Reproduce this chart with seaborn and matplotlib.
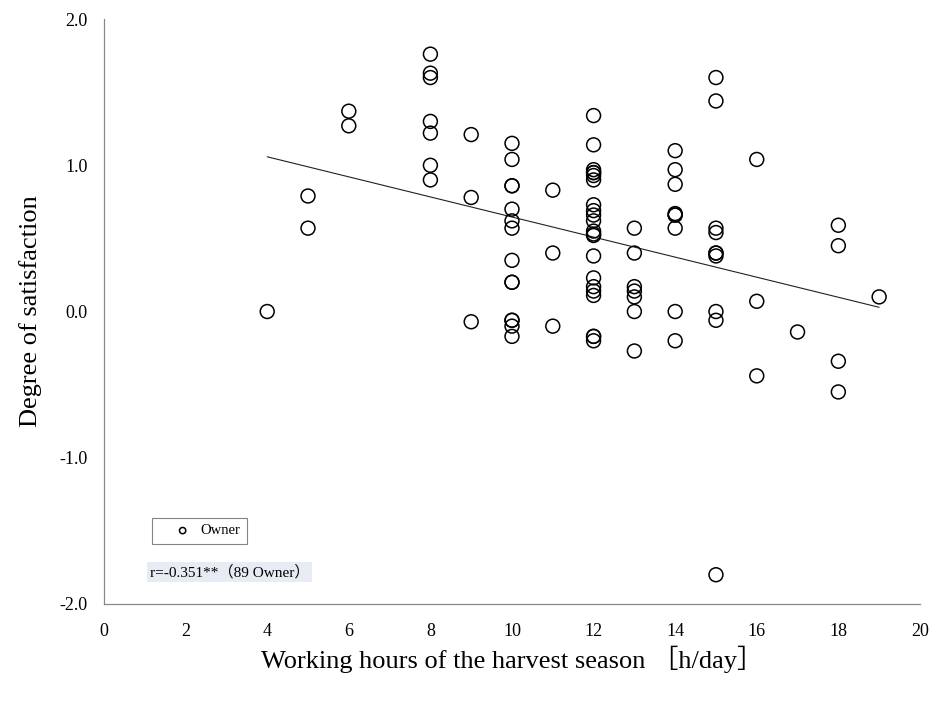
import pandas as pd
import seaborn as sns
import matplotlib.pyplot as plt

# Working hours (h/day) and satisfaction scores
hours_4 = [0.00]
hours_5 = [0.79, 0.57]
hours_6 = [1.37, 1.27]
hours_8 = [1.76, 1.63, 1.60, 1.30, 1.22, 1.00, 0.90]
hours_9 = [1.21, 0.78, -0.07]
hours_10 = [1.15, 1.04, 0.86, 0.86, 0.70, 0.62, 0.57, 0.35, 0.20, 0.20,
            -0.06, -0.06, -0.10, -0.17]
hours_11 = [0.83, 0.40, -0.10]
hours_12 = [1.34, 1.14, 0.97, 0.95, 0.95, 0.93, 0.90, 0.73, 0.69, 0.66, 0.62,
            0.55, 0.53, 0.52, 0.38, 0.23, 0.17, 0.14, 0.11, -0.17, -0.17, -0.20]
hours_13 = [0.57, 0.40, 0.17, 0.14, 0.10, 0.00, -0.27]
hours_14 = [1.10, 0.97, 0.87, 0.67, 0.66, 0.66, 0.57, 0.00, -0.20]
hours_15 = [1.60, 1.44, 0.57, 0.54, 0.40, 0.40, 0.38, 0.00, -0.06, -1.80]
hours_16 = [1.04, 0.07, -0.44]
hours_17 = [-0.14]
hours_18 = [0.59, 0.45, -0.34, -0.55]
hours_19 = [0.10]

groups = {4: hours_4, 5: hours_5, 6: hours_6, 8: hours_8, 9: hours_9,
          10: hours_10, 11: hours_11, 12: hours_12, 13: hours_13,
          14: hours_14, 15: hours_15, 16: hours_16, 17: hours_17,
          18: hours_18, 19: hours_19}

rows = [(h, s) for h, vals in groups.items() for s in vals]
df = pd.DataFrame(rows, columns=["hours", "satisfaction"])

x_ticks = [0, 2, 4, 6, 8, 10, 12, 14, 16, 18, 20]
y_ticks = [-2.0, -1.0, 0.0, 1.0, 2.0]
annotation = "r=-0.351**（89 Owner）"

sns.set_style("white")
plt.rcParams["font.family"] = ["Liberation Serif", "Noto Sans CJK JP"]
plt.rcParams["text.color"] = "black"
plt.rcParams["axes.labelcolor"] = "black"
plt.rcParams["xtick.color"] = "black"
plt.rcParams["ytick.color"] = "black"

fig = plt.figure(figsize=(9.33, 7.06), dpi=100)
ax = fig.add_axes([0.1115, 0.1445, 0.8745, 0.8285])

sns.regplot(data=df, x="hours", y="satisfaction", scatter=False, ci=None,
            truncate=True, ax=ax,
            line_kws={"color": "#222222", "linewidth": 0.8})
sns.scatterplot(data=df, x="hours", y="satisfaction", ax=ax, marker="o",
                s=100, facecolor="none", edgecolor="black", linewidth=1.1,
                label="Owner", zorder=3)

ax.set_xlim(0, 20)
ax.set_ylim(-2.0, 2.0)
ax.set_xticks(x_ticks)
ax.set_xticklabels([str(t) for t in x_ticks])
ax.set_yticks(y_ticks)
ax.set_yticklabels([f"{t:.1f}" for t in y_ticks])
ax.tick_params(axis="both", direction="out", length=4, width=0.8,
               color="#999999", labelsize=13, labelcolor="black", pad=8)
ax.tick_params(axis="x", pad=10)

for side in ["top", "right"]:
    ax.spines[side].set_visible(False)
for side in ["left", "bottom"]:
    ax.spines[side].set_color("#888888")
    ax.spines[side].set_linewidth(0.9)

ax.set_xlabel("Working hours of the harvest season ［h/day］", fontsize=19,
              labelpad=4)
ax.set_ylabel("Degree of satisfaction", fontsize=19, labelpad=12)

leg = ax.legend(loc="lower left", bbox_to_anchor=(0.0588, 0.1026),
                borderaxespad=0, fontsize=10.5, frameon=True, fancybox=False,
                edgecolor="#666666", borderpad=0.45, handlelength=3.3,
                handletextpad=-0.4, markerscale=0.45)
leg.get_frame().set_linewidth(0.8)

ax.text(0.0564, 0.0547, annotation, transform=ax.transAxes, fontsize=11,
        va="center", ha="left",
        bbox={"facecolor": "#e6ebf4", "edgecolor": "none", "pad": 2})

plt.savefig("out.png", dpi=100)
